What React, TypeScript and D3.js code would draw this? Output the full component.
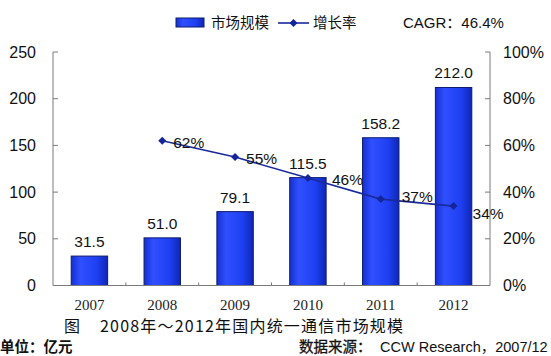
import React from "react";
import * as d3 from "d3";

const years = ["2007", "2008", "2009", "2010", "2011", "2012"];
const marketSize = [31.5, 51.0, 79.1, 115.5, 158.2, 212.0];
const growthYears = ["2008", "2009", "2010", "2011", "2012"];
const growthRate = [62, 55, 46, 37, 34];
const leftTicks = [0, 50, 100, 150, 200, 250];
const rightTicks = [0, 20, 40, 60, 80, 100];
const growthLabelOffsets: [number, number][] = [[11, 2], [11, 1], [24, 1], [21, -3], [19, 7]];

const W = 551;
const H = 356;
const M = { left: 53, right: 490, top: 52, bottom: 285.5 };
const sansFont = "Arial, 'Liberation Sans', 'Noto Sans CJK SC', sans-serif";
const cjkFont = "'Noto Sans CJK SC', 'Liberation Sans', sans-serif";

export default function App() {
  const x = d3.scaleBand<string>().domain(years).range([M.left, M.right]).paddingInner(0.5).paddingOuter(0.25);
  const xb = d3.scaleBand<string>().domain(years).range([M.left, M.right]);
  const yL = d3.scaleLinear().domain([0, 250]).range([M.bottom, M.top]);
  const yR = d3.scaleLinear().domain([0, 100]).range([M.bottom, M.top]);
  const cx = (c: string) => (xb(c) as number) + xb.bandwidth() / 2;
  const line = d3
    .line<number>()
    .x((_, i) => cx(growthYears[i]))
    .y((d) => yR(d));
  const axisColor = "#7a7a7a";
  const diamond = (px: number, py: number, r = 4) =>
    `M${px},${py - r}L${px + r},${py}L${px},${py + r}L${px - r},${py}Z`;

  return (
    <svg width={W} height={H} style={{ position: "absolute", left: 0, top: 0, background: "#fff" }}>
      <defs>
        <linearGradient id="barGrad" x1="0" x2="1" y1="0" y2="0">
          <stop offset="0" stopColor="#1530d0" />
          <stop offset="0.25" stopColor="#3050ff" />
          <stop offset="0.7" stopColor="#1e40f2" />
          <stop offset="1" stopColor="#1026b4" />
        </linearGradient>
      </defs>

      {/* bars */}
      {marketSize.map((v, i) => (
        <rect
          key={years[i]}
          x={x(years[i])}
          y={yL(v)}
          width={x.bandwidth()}
          height={yL(0) - yL(v)}
          fill="url(#barGrad)"
          stroke="#0d1c6e"
          strokeWidth={1}
        />
      ))}
      {marketSize.map((v, i) => (
        <text
          key={"l" + years[i]}
          x={cx(years[i])}
          y={yL(v) - 9}
          textAnchor="middle"
          fontFamily={sansFont}
          fontSize={15.5}
          fill="#111"
        >
          {v.toFixed(1)}
        </text>
      ))}

      {/* axes */}
      <line x1={M.left} x2={M.left} y1={M.top} y2={M.bottom} stroke={axisColor} />
      <line x1={M.right} x2={M.right} y1={M.top} y2={M.bottom} stroke={axisColor} />
      <line x1={M.left} x2={M.right} y1={M.bottom} y2={M.bottom} stroke={axisColor} />
      {leftTicks.map((t) => (
        <g key={"lt" + t}>
          <line x1={M.left} x2={M.left + 5} y1={yL(t)} y2={yL(t)} stroke={axisColor} />
          <text x={36} y={yL(t)} dy="0.35em" textAnchor="end" fontFamily={sansFont} fontSize={16} fill="#111">
            {t}
          </text>
        </g>
      ))}
      {rightTicks.map((t) => (
        <g key={"rt" + t}>
          <line x1={M.right - 5} x2={M.right} y1={yR(t)} y2={yR(t)} stroke={axisColor} />
          <text x={503} y={yR(t)} dy="0.35em" textAnchor="start" fontFamily={sansFont} fontSize={16} fill="#111">
            {t}%
          </text>
        </g>
      ))}
      {years.slice(1).map((c) => (
        <line key={"xt" + c} x1={xb(c)} x2={xb(c)} y1={M.bottom} y2={M.bottom - 3} stroke={axisColor} />
      ))}
      {years.map((c) => (
        <text
          key={"xl" + c}
          x={cx(c)}
          y={310}
          textAnchor="middle"
          fontFamily="'Times New Roman', 'Liberation Serif', serif"
          fontSize={15}
          fill="#222"
        >
          {c}
        </text>
      ))}

      {/* growth line */}
      <path d={line(growthRate) || ""} fill="none" stroke="#1a2a9c" strokeWidth={1.6} />
      {growthRate.map((v, i) => (
        <path key={"m" + i} d={diamond(cx(growthYears[i]), yR(v))} fill="#14249a" />
      ))}
      {growthRate.map((v, i) => (
        <text
          key={"g" + i}
          x={cx(growthYears[i]) + growthLabelOffsets[i][0]}
          y={yR(v) + growthLabelOffsets[i][1]}
          dy="0.35em"
          fontFamily={sansFont}
          fontSize={15.5}
          fill="#111"
        >
          {v}%
        </text>
      ))}

      {/* legend */}
      <rect x={176} y={18} width={28} height={9} fill="url(#barGrad)" stroke="#0d1c6e" />
      <text x={211} y={23} dy="0.35em" fontFamily={cjkFont} fontSize={14.5} fill="#111">
        市场规模
      </text>
      <line x1={278} x2={309} y1={23} y2={23} stroke="#1a2a9c" strokeWidth={1.6} />
      <path d={diamond(293.5, 23, 4)} fill="#14249a" />
      <text x={313} y={23} dy="0.35em" fontFamily={cjkFont} fontSize={14.5} fill="#111">
        增长率
      </text>
      <text x={403} y={23} dy="0.35em" fontFamily={sansFont} fontSize={15} fill="#111">
        CAGR：46.4%
      </text>

      {/* captions */}
      <text x={64} y={332} fontFamily={cjkFont} fontSize={16} fill="#111">
        图
      </text>
      <text x={100} y={332} fontFamily={cjkFont} fontSize={16} letterSpacing={1.2} fill="#111">
        2008年～2012年国内统一通信市场规模
      </text>
      <text x={0} y={352} fontFamily={cjkFont} fontSize={14.5} fontWeight="bold" fill="#111">
        单位：亿元
      </text>
      <text x={299} y={352} fontFamily={cjkFont} fontSize={14.5} fill="#111" stroke="#111" strokeWidth={0.3}>
        数据来源：
      </text>
      <text x={380} y={352} fontFamily={sansFont} fontSize={14.5} fill="#111">
        CCW Research，2007/12
      </text>
    </svg>
  );
}
